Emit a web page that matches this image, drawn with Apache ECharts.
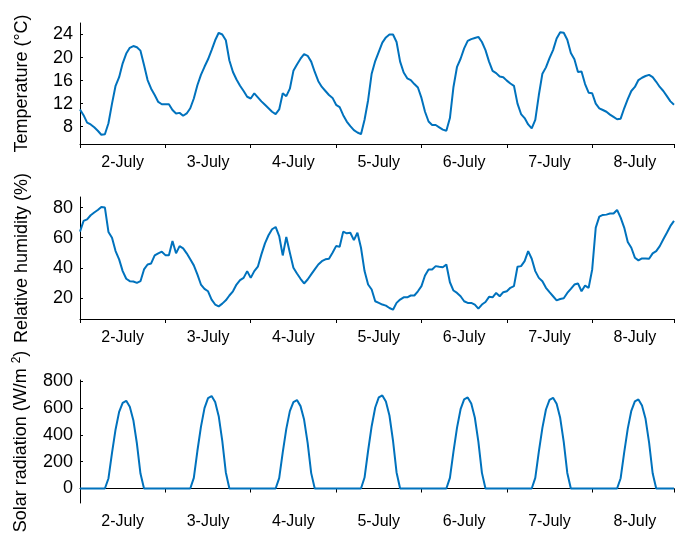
<!DOCTYPE html>
<html lang="en">
<head>
	<meta charset="UTF-8">
	<title>Weather July</title>
	<script src="https://cdn.jsdelivr.net/npm/echarts@6/dist/echarts.min.js"></script>
</head>
<style>
	html, body { margin: 0; padding: 0; background: #fff; }
	#main { width: 675px; height: 538px; }
</style>
<body>
	<div id="main"></div>
	<script>
		// hourly samples, 2-July 00:00 .. 8-July 23:00
		var dayLabels = ['2-July', '3-July', '4-July', '5-July', '6-July', '7-July', '8-July'];

		var temperature = [
			11.0, 10.0, 8.7, 8.4, 7.9, 7.3, 6.6, 6.7, 8.6, 12.0, 15.1, 16.6, 19.0, 20.7, 21.7, 22.0, 21.8, 21.2, 18.7, 16.1, 14.6, 13.5, 12.3, 11.9,
			11.9, 11.9, 10.9, 10.3, 10.4, 9.9, 10.3, 11.2, 12.9, 15.2, 17.0, 18.4, 19.7, 21.3, 23.0, 24.3, 24.0, 23.0, 19.5, 17.5, 16.2, 15.1, 14.2, 13.2,
			12.9, 13.8, 13.1, 12.4, 11.8, 11.2, 10.6, 10.2, 11.0, 13.8, 13.3, 14.6, 17.7, 18.8, 19.8, 20.6, 20.3, 19.3, 17.5, 15.9, 14.9, 14.2, 13.5, 13.0,
			11.8, 11.4, 10.0, 8.9, 8.1, 7.4, 7.0, 6.7, 9.2, 12.6, 17.2, 19.4, 21.0, 22.6, 23.5, 24.0, 24.0, 22.7, 19.3, 17.4, 16.4, 16.1, 15.4, 14.8,
			13.0, 10.6, 8.9, 8.3, 8.3, 7.9, 7.5, 7.3, 9.5, 14.9, 18.4, 19.8, 21.6, 22.9, 23.2, 23.4, 23.6, 22.7, 21.3, 19.3, 17.7, 17.3, 16.7, 16.6,
			16.0, 15.5, 15.1, 12.0, 10.2, 9.5, 8.4, 7.7, 9.2, 13.5, 17.2, 18.3, 19.9, 21.3, 23.3, 24.4, 24.3, 23.1, 20.8, 19.7, 17.5, 17.6, 15.4, 13.9,
			13.8, 12.0, 11.2, 10.9, 10.6, 10.1, 9.7, 9.3, 9.4, 11.2, 12.8, 14.2, 14.9, 16.1, 16.5, 16.8, 17.0, 16.6, 15.8, 14.9, 14.2, 13.3, 12.4, 11.8
		];

		var humidity = [
			64, 71.1, 72.2, 74.9, 76.7, 78.4, 80.4, 80, 63.8, 60, 51.1, 45.6, 37.8, 32.7, 31.1, 30.9, 30, 31.1, 38.9, 42.2, 42.9, 48.2, 49.6, 50.7,
			48.4, 48.4, 57.8, 49.6, 54.4, 52.9, 49.6, 45.6, 41.6, 35.6, 28.9, 26, 24.4, 18.9, 15.6, 14.4, 16.2, 18.4, 21.6, 24.4, 28.9, 31.8, 33.3, 37.8,
			33.3, 37.8, 40.7, 48.9, 56.2, 61.6, 65.6, 67.1, 61.1, 48.2, 60.4, 50, 40, 36.2, 32.7, 29.6, 32.2, 35.6, 38.9, 42.2, 44.4, 45.6, 46, 50,
			54.4, 54, 64, 62.9, 63.3, 58.4, 63.3, 53.3, 37.8, 28.9, 25.6, 17.8, 16.7, 15.6, 14.9, 13.3, 12.2, 16.7, 18.9, 20.4, 20.4, 21.6, 21.6, 24.4,
			27.8, 34.9, 38.9, 38.9, 41.1, 40.7, 40.4, 42.2, 30.4, 24.9, 23.3, 21.1, 17.8, 16.7, 16.7, 15.6, 12.9, 15.6, 17.3, 20.7, 20.4, 23.3, 21.1, 23.8,
			24.4, 26.7, 27.8, 40.7, 41.1, 44.4, 51.1, 46, 37.8, 33.3, 31.1, 26.7, 23.8, 21.1, 18.4, 19.3, 19.8, 23.3, 26, 28.9, 29.6, 24.4, 28.2, 26.7,
			38.9, 66.7, 74, 75.1, 75.3, 76, 76, 78.4, 73.3, 66.7, 57.1, 53.3, 46.7, 44.9, 46.2, 46.2, 46, 49.6, 51.1, 54.4, 58.9, 63.3, 67.8, 71.1
		];

		var solar = [
			0, 0, 0, 0, 0, 0, 0, 0, 75, 266, 441, 572, 640, 655, 610, 510, 336, 112, 0, 0, 0, 0, 0, 0,
			0, 0, 0, 0, 0, 0, 0, 0, 80, 280, 460, 600, 675, 690, 645, 540, 355, 120, 0, 0, 0, 0, 0, 0,
			0, 0, 0, 0, 0, 0, 0, 0, 78, 270, 445, 578, 645, 660, 615, 515, 340, 115, 0, 0, 0, 0, 0, 0,
			0, 0, 0, 0, 0, 0, 0, 0, 82, 282, 465, 605, 680, 695, 650, 545, 358, 120, 0, 0, 0, 0, 0, 0,
			0, 0, 0, 0, 0, 0, 0, 0, 80, 276, 455, 592, 665, 680, 635, 530, 350, 117, 0, 0, 0, 0, 0, 0,
			0, 0, 0, 0, 0, 0, 0, 0, 80, 275, 453, 590, 662, 677, 632, 528, 348, 116, 0, 0, 0, 0, 0, 0,
			0, 0, 0, 0, 0, 0, 0, 0, 77, 270, 447, 580, 650, 665, 620, 520, 342, 114, 0, 0, 0, 0, 0, 0
		];

		var tempTicks = [8, 12, 16, 20, 24];
		var humTicks = [20, 40, 60, 80];
		var solarTicks = [0, 200, 400, 600, 800];
		var dayTicks = [0, 24, 48, 72, 96, 120, 144, 167];
		var dayCenters = [12, 36, 60, 84, 108, 132, 156];

		var font = "'Liberation Sans', Arial, sans-serif";
		var lineColor = '#0072BD';

		function pairs(arr) {
			return arr.map(function (v, i) { return [i, v]; });
		}

		function xAxisFor(gridIndex) {
			return {
				type: 'value',
				gridIndex: gridIndex,
				min: 0,
				max: 167,
				splitLine: { show: false },
				axisLine: { lineStyle: { color: '#000', width: 1 } },
				axisTick: { customValues: dayTicks, length: 4, lineStyle: { color: '#000' } },
				axisLabel: {
					customValues: dayCenters,
					margin: 11,
					color: '#000',
					fontSize: 16,
					fontFamily: font,
					formatter: function (v) {
						return dayLabels[Math.round((v - 12) / 24)];
					}
				}
			};
		}

		function yAxisFor(gridIndex, name, min, max, ticks, rich) {
			return {
				type: 'value',
				gridIndex: gridIndex,
				min: min,
				max: max,
				name: name,
				nameLocation: 'middle',
				nameGap: 49,
				nameTextStyle: { color: '#000', fontSize: 18, fontFamily: font, rich: rich },
				splitLine: { show: false },
				axisLine: { show: true, lineStyle: { color: '#000', width: 1 } },
				axisTick: { show: true, inside: true, length: 3, customValues: ticks, lineStyle: { color: '#000' } },
				axisLabel: { customValues: ticks, margin: 7, color: '#000', fontSize: 18, fontFamily: font }
			};
		}

		var myChart = echarts.init(document.getElementById('main'));
		var option = {
			animation: false,
			backgroundColor: '#fff',
			grid: [
				{ left: 80, right: 1, top: 23, height: 121 },
				{ left: 80, right: 1, top: 197, height: 122 },
				{ left: 80, right: 1, top: 380, height: 123 }
			],
			xAxis: [xAxisFor(0), xAxisFor(1), xAxisFor(2)],
			yAxis: [
				yAxisFor(0, 'Temperature (°C)', 5, 26, tempTicks),
				yAxisFor(1, 'Relative humidity (%)', 6, 87, humTicks),
				yAxisFor(2, 'Solar radiation (W/m {sup|2})', -108, 810, solarTicks, {
					sup: { fontSize: 12, fontFamily: font, color: '#000', verticalAlign: 'top', lineHeight: 20 }
				})
			],
			series: [
				{ type: 'line', xAxisIndex: 0, yAxisIndex: 0, data: pairs(temperature), showSymbol: false, lineStyle: { color: lineColor, width: 2 } },
				{ type: 'line', xAxisIndex: 1, yAxisIndex: 1, data: pairs(humidity), showSymbol: false, lineStyle: { color: lineColor, width: 2 } },
				{ type: 'line', xAxisIndex: 2, yAxisIndex: 2, data: pairs(solar), showSymbol: false, lineStyle: { color: lineColor, width: 2 } }
			]
		};
		myChart.setOption(option);
	</script>
</body>
</html>
